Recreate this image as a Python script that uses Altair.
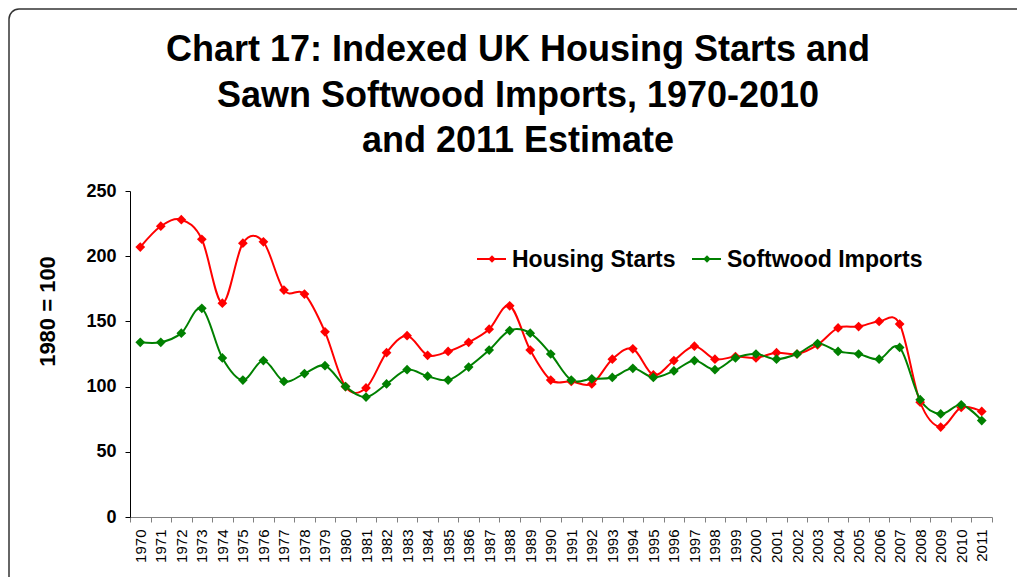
import altair as alt
import pandas as pd

years = [str(y) for y in range(1970, 2012)]
housing_starts = [207, 223, 228, 213, 164, 210, 211, 174, 171, 142,
                  100, 99, 126, 139, 124, 127, 134, 144, 162, 128,
                  105, 104, 102, 121, 129, 109, 120, 131, 121, 123,
                  122, 126, 125, 132, 145, 146, 150, 148, 88, 69,
                  84, 81]
softwood_imports = [134, 134, 141, 160, 122, 105, 120, 104, 110, 116,
                    100, 92, 102, 113, 108, 105, 115, 128, 143, 141,
                    125, 105, 106, 107, 114, 107, 112, 120, 113, 122,
                    125, 121, 125, 133, 127, 125, 121, 130, 90, 79,
                    86, 74]
series_names = ["Housing Starts", "Softwood Imports"]
series_colors = ["#FF0000", "#008000"]
title_lines = ["Chart 17: Indexed UK Housing Starts and",
               "Sawn Softwood Imports, 1970-2010",
               "and 2011 Estimate"]
y_title = "1980 = 100"
y_ticks = [0, 50, 100, 150, 200, 250]

FONT = "Liberation Sans"

df = pd.DataFrame({
    "year": years * 2,
    "series": [series_names[0]] * len(years) + [series_names[1]] * len(years),
    "value": housing_starts + softwood_imports,
})

color = alt.Color("series:N", scale=alt.Scale(domain=series_names, range=series_colors), legend=None)
x_enc = alt.X("year:O", sort=years, bandPosition=0.5,
              scale=alt.Scale(type="band", paddingInner=0, paddingOuter=0),
              axis=alt.Axis(title=None, labelAngle=270, labelFont=FONT, labelFontSize=15,
                            labelColor="black", tickBand="extent", domainColor="#808080",
                            tickColor="#808080", tickSize=5, labelPadding=7, grid=False))
y_enc = alt.Y("value:Q", scale=alt.Scale(domain=[0, 250], nice=False),
              axis=alt.Axis(title=y_title, values=y_ticks, titleFont=FONT, titleFontSize=22,
                            titleFontWeight="bold", titleColor="black", titleAngle=270,
                            titleX=-83, titleY=120, titleAlign="center", titleBaseline="middle",
                            labelFont=FONT, labelFontSize=18, labelFontWeight="bold",
                            labelColor="black", tickSize=5, tickColor="black",
                            domainColor="black", labelPadding=9, grid=False))

base = alt.Chart(df)
lines = base.mark_line(interpolate="cardinal", strokeWidth=2).encode(x=x_enc, y=y_enc, color=color, detail="series:N")
points = base.mark_point(shape="diamond", filled=True, size=95, opacity=1).encode(x=x_enc, y=y_enc, color=color)

one = pd.DataFrame({"k": [0]})

# chart frame: left and top edges with a rounded top-left corner (right/bottom lie outside the picture)
BORDER = "#333333"
frame_left = alt.Chart(one).mark_rule(color=BORDER, strokeWidth=1.5).encode(
    x=alt.value(-121), y=alt.value(-172), y2=alt.value(420))
frame_top = alt.Chart(one).mark_rule(color=BORDER, strokeWidth=1.5).encode(
    x=alt.value(-111), x2=alt.value(950), y=alt.value(-182))
frame_corner = alt.Chart(one).mark_arc(color=BORDER, radius=10.75, radius2=9.25,
                                       theta=4.7124, theta2=6.2832).encode(
    x=alt.value(-111), y=alt.value(-172))

title_layers = []
for i, line in enumerate(title_lines):
    title_layers.append(
        alt.Chart(one).mark_text(font=FONT, fontSize=36, fontWeight="bold", align="center",
                                 baseline="alphabetic", color="black").encode(
            x=alt.value(388), y=alt.value(-130 + i * 45.7), text=alt.value(line)))

legend_layers = []
legend_x = [347, 562]
for name, col, lx in zip(series_names, series_colors, legend_x):
    legend_layers.append(alt.Chart(one).mark_rule(color=col, strokeWidth=2).encode(
        x=alt.value(lx), x2=alt.value(lx + 29), y=alt.value(68)))
    legend_layers.append(alt.Chart(one).mark_point(shape="diamond", filled=True, size=55, color=col, opacity=1).encode(
        x=alt.value(lx + 15), y=alt.value(68)))
    legend_layers.append(alt.Chart(one).mark_text(font=FONT, fontSize=23, fontWeight="bold", align="left",
                                                  baseline="middle", color="black").encode(
        x=alt.value(lx + 35), y=alt.value(69), text=alt.value(name)))

chart = alt.layer(frame_left, frame_top, frame_corner, *title_layers, lines, points, *legend_layers).properties(
    width=862, height=326,
    autosize=alt.AutoSizeParams(type="none"),
    padding={"left": 122, "top": 183, "right": 25, "bottom": 60},
    background="white",
).configure_view(stroke=None)

chart.save("out.html", embed_options={"renderer": "svg", "actions": False})
